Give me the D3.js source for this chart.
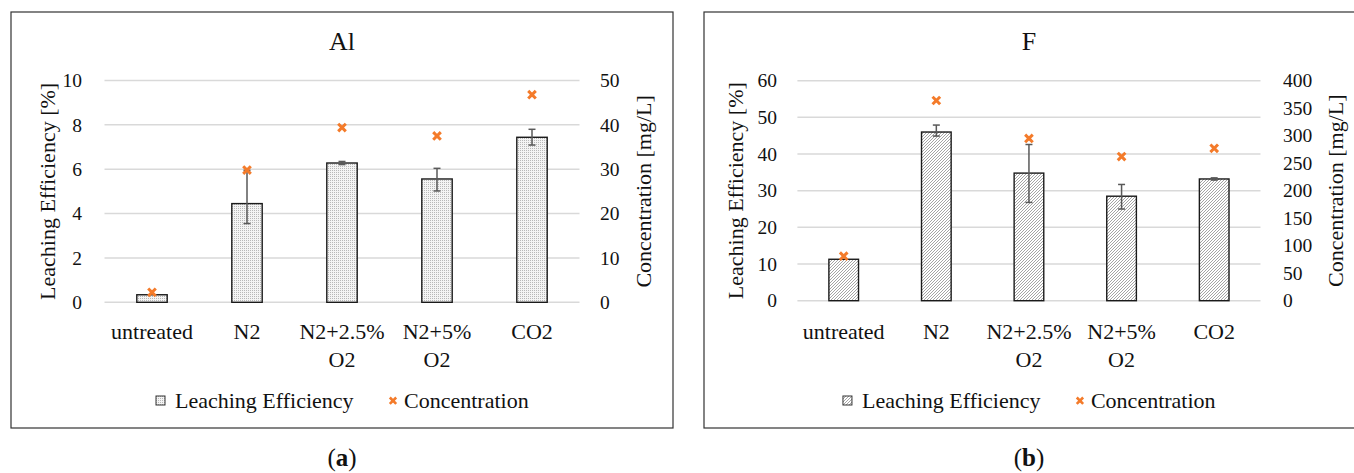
<!DOCTYPE html>
<html>
<head>
<meta charset="utf-8">
<script src="https://cdn.jsdelivr.net/npm/d3@7"></script>
<style>
  body { margin: 0; background: #fff; }
</style>
</head>
<body>
<svg id="chart" width="1354" height="473" font-family="'Liberation Serif', 'DejaVu Serif', serif"></svg>
<script>
// categories (a space marks the line break in the axis label)
var categories = ['untreated', 'N2', 'N2+2.5% O2', 'N2+5% O2', 'CO2'];

// (a) Al
var alEff = [0.34, 4.45, 6.28, 5.56, 7.44];
var alErrPlus = [0, 1.5, 0.07, 0.48, 0.36];
var alErrMinus = [0, 0.9, 0.07, 0.54, 0.35];
var alConc = [2.25, 29.8, 39.4, 37.5, 46.8];
var alLeftTicks = [0, 2, 4, 6, 8, 10];
var alRightTicks = [0, 10, 20, 30, 40, 50];

// (b) F
var fEff = [11.3, 46.0, 34.8, 28.5, 33.2];
var fErrPlus = [0, 1.9, 7.8, 3.2, 0.3];
var fErrMinus = [0, 1.1, 8.0, 3.5, 0.3];
var fConc = [81, 364, 295, 262, 277];
var fLeftTicks = [0, 10, 20, 30, 40, 50, 60];
var fRightTicks = [0, 50, 100, 150, 200, 250, 300, 350, 400];

var SERIF = '"Liberation Serif", "DejaVu Serif", serif';

var svg = d3.select('#chart');
var defs = svg.append('defs');

// dotted fill for Al bars
var dots = defs.append('pattern')
  .attr('id', 'dots')
  .attr('patternUnits', 'userSpaceOnUse')
  .attr('width', 2).attr('height', 2);
dots.append('rect').attr('width', 2).attr('height', 2).attr('fill', '#f4f4f4');
dots.append('rect').attr('width', 1).attr('height', 1).attr('fill', '#b8b8b8');

// hatched fill for F bars
var hatch = defs.append('pattern')
  .attr('id', 'hatch')
  .attr('patternUnits', 'userSpaceOnUse')
  .attr('width', 3).attr('height', 3);
hatch.append('rect').attr('width', 3).attr('height', 3).attr('fill', '#fff');
hatch.append('path')
  .attr('d', 'M-1,1 l2,-2 M0,3 l3,-3 M2,4 l2,-2')
  .attr('stroke', '#9a9a9a').attr('stroke-width', 0.9);

function txt(sel, size) {
  return sel.style('font-family', SERIF).style('font-size', size + 'px').attr('fill', '#111');
}

function drawPanel(cfg) {
  var g = svg.append('g');

  g.append('rect')
    .attr('x', cfg.frame[0]).attr('y', cfg.frame[1])
    .attr('width', cfg.frame[2]).attr('height', cfg.frame[3])
    .attr('fill', 'none').attr('stroke', '#333').attr('stroke-width', 1.2);

  var x = d3.scaleBand().domain(categories)
    .range([cfg.x0, cfg.x1])
    .paddingInner(0.68).paddingOuter(0.34);
  var y = d3.scaleLinear().domain([0, d3.max(cfg.leftTicks)]).range([cfg.y0, cfg.y1]);
  var y2 = d3.scaleLinear().domain([0, d3.max(cfg.rightTicks)]).range([cfg.y0, cfg.y1]);

  // gridlines
  g.selectAll('line.grid').data(cfg.leftTicks).enter().append('line')
    .attr('x1', cfg.x0).attr('x2', cfg.x1)
    .attr('y1', function (d) { return y(d); })
    .attr('y2', function (d) { return y(d); })
    .attr('stroke', '#d9d9d9').attr('stroke-width', 1.5);

  // left axis
  var la = g.append('g').attr('transform', 'translate(' + cfg.leftLabelX + ',0)')
    .call(d3.axisLeft(y).tickValues(cfg.leftTicks).tickSize(0).tickPadding(0));
  la.attr('font-family', null);
  la.select('.domain').remove();
  txt(la.selectAll('text'), 19.5);

  // right axis
  var ra = g.append('g').attr('transform', 'translate(' + cfg.rightLabelX + ',0)')
    .call(d3.axisRight(y2).tickValues(cfg.rightTicks).tickSize(0).tickPadding(0));
  ra.attr('font-family', null);
  ra.select('.domain').remove();
  txt(ra.selectAll('text'), 19.5);

  // bars
  g.selectAll('rect.bar').data(cfg.eff).enter().append('rect')
    .attr('x', function (d, i) { return x(categories[i]); })
    .attr('width', x.bandwidth())
    .attr('y', function (d) { return y(d); })
    .attr('height', function (d) { return cfg.y0 - y(d); })
    .attr('fill', 'url(#' + cfg.pattern + ')')
    .attr('stroke', '#1a1a1a').attr('stroke-width', 1.4);

  // error bars
  cfg.eff.forEach(function (d, i) {
    if (!(cfg.errPlus[i] > 0)) return;
    var cx = x(categories[i]) + x.bandwidth() / 2;
    var top = y(d + cfg.errPlus[i]);
    var bot = y(d - cfg.errMinus[i]);
    var s = g.append('g');
    s.append('line').attr('x1', cx).attr('x2', cx).attr('y1', top).attr('y2', bot);
    s.append('line').attr('x1', cx - 3.5).attr('x2', cx + 3.5).attr('y1', top).attr('y2', top);
    s.append('line').attr('x1', cx - 3.5).attr('x2', cx + 3.5).attr('y1', bot).attr('y2', bot);
    s.selectAll('line').attr('stroke', '#595959').attr('stroke-width', 1.5);
  });

  // concentration markers
  g.selectAll('path.mark').data(cfg.conc).enter().append('path')
    .attr('transform', function (d, i) {
      return 'translate(' + (x(categories[i]) + x.bandwidth() / 2) + ',' + y2(d) + ')';
    })
    .attr('d', 'M-3.8,-3.8L3.8,3.8M-3.8,3.8L3.8,-3.8')
    .attr('stroke', '#F47B2A').attr('stroke-width', 3).attr('fill', 'none');

  // category labels
  categories.forEach(function (d) {
    var t = txt(g.append('text').attr('text-anchor', 'middle'), 22);
    var cx = x(d) + x.bandwidth() / 2;
    d.split(' ').forEach(function (p, k) {
      t.append('tspan').attr('x', cx).attr('y', cfg.catY + k * 28).text(p);
    });
  });

  var mid = (cfg.x0 + cfg.x1) / 2;

  // title
  txt(g.append('text').attr('x', mid).attr('y', 50).attr('text-anchor', 'middle'), 26)
    .text(cfg.title);

  // axis titles
  txt(g.append('text')
    .attr('transform', 'translate(' + cfg.leftTitleX + ',' + ((cfg.y0 + cfg.y1) / 2) + ') rotate(-90)')
    .attr('text-anchor', 'middle').attr('dy', '0.35em'), 22)
    .text('Leaching Efficiency [%]');
  txt(g.append('text')
    .attr('transform', 'translate(' + cfg.rightTitleX + ',' + ((cfg.y0 + cfg.y1) / 2) + ') rotate(-90)')
    .attr('text-anchor', 'middle').attr('dy', '0.35em'), 22)
    .text('Concentration [mg/L]');

  // legend
  g.append('rect').attr('x', mid - 186).attr('y', 396).attr('width', 9).attr('height', 9)
    .attr('fill', 'url(#' + cfg.pattern + ')').attr('stroke', '#333').attr('stroke-width', 1);
  txt(g.append('text').attr('x', mid - 167).attr('y', 407.5), 22).text('Leaching Efficiency');
  g.append('path').attr('transform', 'translate(' + (mid + 51) + ',400.7)')
    .attr('d', 'M-3.2,-3.2L3.2,3.2M-3.2,3.2L3.2,-3.2')
    .attr('stroke', '#F47B2A').attr('stroke-width', 2.6);
  txt(g.append('text').attr('x', mid + 62).attr('y', 407.5), 22).text('Concentration');

  // panel letter
  var lt = txt(g.append('text').attr('x', mid).attr('y', 466).attr('text-anchor', 'middle'), 25);
  lt.append('tspan').text('(');
  lt.append('tspan').style('font-weight', 'bold').text(cfg.letter);
  lt.append('tspan').text(')');
}

drawPanel({
  frame: [11, 12, 662, 416],
  x0: 104.5, x1: 579.5, y0: 302.3, y1: 80.5,
  eff: alEff, errPlus: alErrPlus, errMinus: alErrMinus, conc: alConc,
  leftTicks: alLeftTicks, rightTicks: alRightTicks,
  leftLabelX: 82, rightLabelX: 600,
  leftTitleX: 47, rightTitleX: 643,
  catY: 339, pattern: 'dots', title: 'Al', letter: 'a'
});

drawPanel({
  frame: [704, 12, 660, 416],
  x0: 797.4, x1: 1260.5, y0: 300.7, y1: 80.7,
  eff: fEff, errPlus: fErrPlus, errMinus: fErrMinus, conc: fConc,
  leftTicks: fLeftTicks, rightTicks: fRightTicks,
  leftTitleX: 735, rightTitleX: 1335,
  leftLabelX: 777, rightLabelX: 1283,
  catY: 339, pattern: 'hatch', title: 'F', letter: 'b'
});
</script>
</body>
</html>
